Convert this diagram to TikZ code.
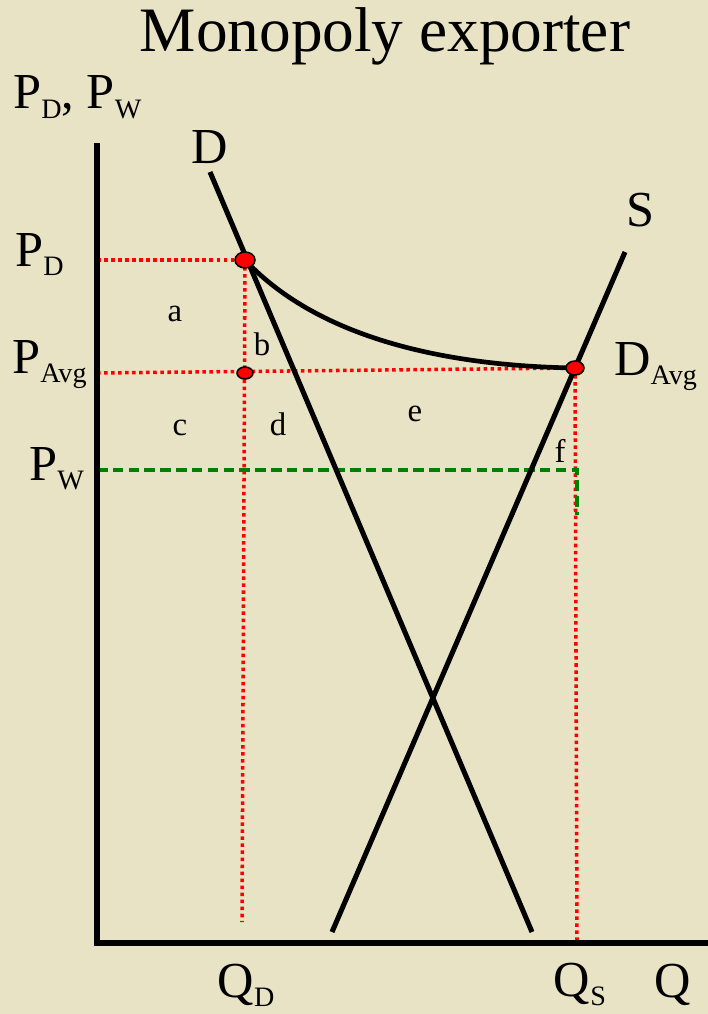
\documentclass[tikz,border=0pt]{standalone}
\usepackage{fontspec}
\setmainfont{Liberation Serif}
\usetikzlibrary{positioning}
\definecolor{paper}{RGB}{233,227,198}
\definecolor{dotred}{RGB}{255,0,0}
\definecolor{pwgreen}{RGB}{0,128,0}
\newcommand\psub[2]{#1\raisebox{-8pt}{\fontsize{24}{24}\selectfont #2}}

\begin{document}
\begin{tikzpicture}[x=0.03cm,y=-0.03cm,
    axis/.style={line width=4.3pt},
    curve/.style={line width=4pt},
    guide/.style={dotred,line width=3pt,dash pattern=on 3pt off 3pt},
    world/.style={pwgreen,line width=2.8pt,dash pattern=on 9pt off 4.5pt},
    big/.style={font=\fontsize{43}{46}\selectfont,inner sep=0pt,anchor=base},
    area/.style={font=\fontsize{28}{30}\selectfont,inner sep=0pt,anchor=base},
    eqdot/.style={fill=dotred,draw=black,line width=1.3pt}]
        \fill[paper] (0,0) rectangle (708,1014);
        \useasboundingbox (0,0) rectangle (708,1014);
        % axes
        \coordinate (origin) at (97,943);
        \coordinate (ytop) at (97,143);
        \coordinate (xend) at (708,943);
        % prices and quantities
        \coordinate (pd) at (245,260);
        \coordinate (pdaxis) at (97,260);
        \coordinate (pavg) at (245,373);
        \coordinate (pavgaxis) at (97,373);
        \coordinate (davg) at (575,368);
        \coordinate (pw) at (97,470);
        \coordinate (pwend) at (577,470);
        \coordinate (pwdrop) at (577,515);
        \coordinate (qd) at (242,922);
        \coordinate (qs) at (577,940);
        % curves
        \coordinate (dtop) at (210,172);
        \coordinate (dbot) at (532,932);
        \coordinate (stop) at (625,252);
        \coordinate (sbot) at (332,932);
        \draw[guide] (pdaxis) -- (pd);
        \draw[guide] (pavgaxis) -- (davg);
        \draw[guide] (pd) -- (qd);
        \draw[guide] (davg) -- (qs);
        \draw[world] (pw) -- (pwend) -- (pwdrop);
        \draw[axis] (ytop) -- (origin) -- (xend);
        \draw[axis] (dtop) -- (dbot);
        \draw[axis] (sbot) -- (stop);
        \draw[curve] (pd) .. controls (320,340) and (450,366) .. (davg);
        \draw[eqdot] (pd) ellipse (10 and 8);
        \draw[eqdot] (pavg) ellipse (8 and 6);
        \draw[eqdot] (davg) ellipse (9 and 7);
        % labels
        \node[font=\fontsize{54}{58}\selectfont,inner sep=0pt,anchor=base] (title) at (385,52) {Monopoly exporter};
        \node[big,anchor=base west] (paxis) at (13,109) {\psub{P}{D}, \psub{P}{W}};
        \node[big] (dlabel) at (210,163) {D};
        \node[big] (slabel) at (640,226) {S};
        \node[big,anchor=base west] (pdlabel) at (15,266) {\psub{P}{D}};
        \node[big,anchor=base west] (pavglabel) at (12,373) {\psub{P}{Avg}};
        \node[big,anchor=base west] (pwlabel) at (29,480) {\psub{P}{W}};
        \node[big,anchor=base west] (davglabel) at (614,375) {\psub{D}{Avg}};
        \node[big] (qdlabel) at (246,997) {\psub{Q}{D}};
        \node[big] (qslabel) at (580,996) {\psub{Q}{S}};
        \node[big] (qlabel) at (673,997) {Q};
        \node[area] (a) at (175,321) {a};
        \node[area] (b) at (262,355) {b};
        \node[area] (c) at (180,435) {c};
        \node[area] (d) at (278,435) {d};
        \node[area] (e) at (415,421) {e};
        \node[area] (f) at (560,462) {f};
    \end{tikzpicture}
\end{document}
